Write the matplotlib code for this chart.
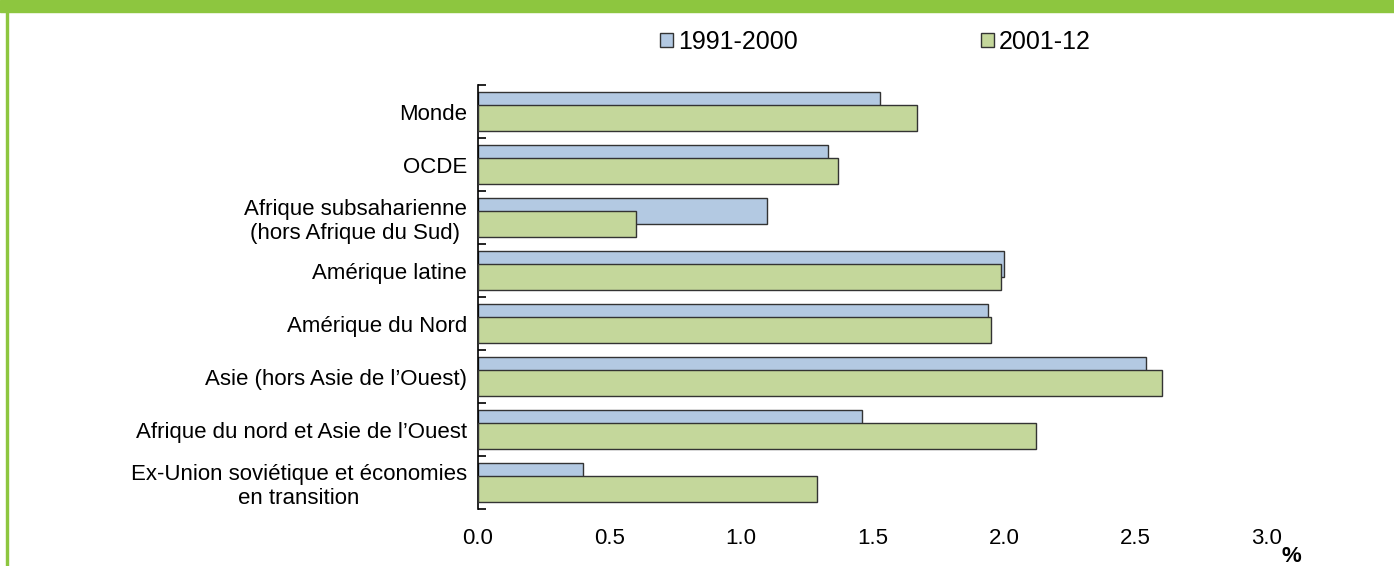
import matplotlib.pyplot as plt
import matplotlib.patches as mpatches
from matplotlib.ticker import FixedLocator
import numpy as np

plt.rcParams['font.family'] = ['Liberation Sans', 'DejaVu Sans']

# categories, top to bottom
regions = ['Monde', 'OCDE', 'Afrique subsaharienne\n(hors Afrique du Sud)', 'Amérique latine',
           'Amérique du Nord', 'Asie (hors Asie de l’Ouest)', 'Afrique du nord et Asie de l’Ouest',
           'Ex-Union soviétique et économies\nen transition']
vals_1991_2000 = [1.53, 1.33, 1.10, 2.00, 1.94, 2.54, 1.46, 0.40]
vals_2001_12 = [1.67, 1.37, 0.60, 1.99, 1.95, 2.60, 2.12, 1.29]
xticks = [0.0, 0.5, 1.0, 1.5, 2.0, 2.5, 3.0]

fs = 16
fig = plt.figure(figsize=(13.94, 5.66), dpi=100)
ax = fig.add_axes([0.3429, 0.1007, 0.9089 - 0.3429, 0.8498 - 0.1007])

# green frame: top band and left line
fig.patches.append(mpatches.Rectangle((0, 1 - 12 / 566), 1, 12 / 566, transform=fig.transFigure,
                                      color='#8DC63F', zorder=0))
fig.patches.append(mpatches.Rectangle((6 / 1394, 0), 2 / 1394, 1, transform=fig.transFigure,
                                      color='#8DC63F', zorder=0))

y = np.arange(len(regions))
ax.barh(y - 0.125, vals_1991_2000, height=0.5, color='#B3C9E2', edgecolor='#333333',
        linewidth=1, label='1991-2000', zorder=2)
ax.barh(y + 0.125, vals_2001_12, height=0.5, color='#C4D79B', edgecolor='#333333',
        linewidth=1, label='2001-12', zorder=3)

ax.set_xlim(0, 3.0)
ax.set_ylim(len(regions) - 0.5, -0.5)
ax.set_xticks(xticks)
ax.set_xticklabels([f'{v:.1f}' for v in xticks], fontsize=fs)
ax.tick_params(axis='x', length=0, pad=14)
ax.set_yticks(y)
ax.set_yticklabels(regions, fontsize=fs, multialignment='center')
ax.tick_params(axis='y', which='major', length=0, pad=8)
ax.yaxis.set_minor_locator(FixedLocator(np.arange(-0.5, len(regions), 1)))
ax.tick_params(axis='y', which='minor', length=6, width=1.2, direction='in')

for s in ['top', 'right', 'bottom']:
    ax.spines[s].set_visible(False)
ax.spines['left'].set_linewidth(1.2)

fig.legend(loc='center', bbox_to_anchor=(0.628, 1 - 42 / 566), ncol=2, frameon=False, fontsize=18,
           handlelength=0.52, handleheight=0.52, handletextpad=0.2, columnspacing=7.3,
           borderaxespad=0)

fig.text(1291 / 1394, 1 - 557 / 566, '%', fontsize=fs, fontweight='bold', ha='center', va='center')

fig.savefig('out.png', dpi=100)
